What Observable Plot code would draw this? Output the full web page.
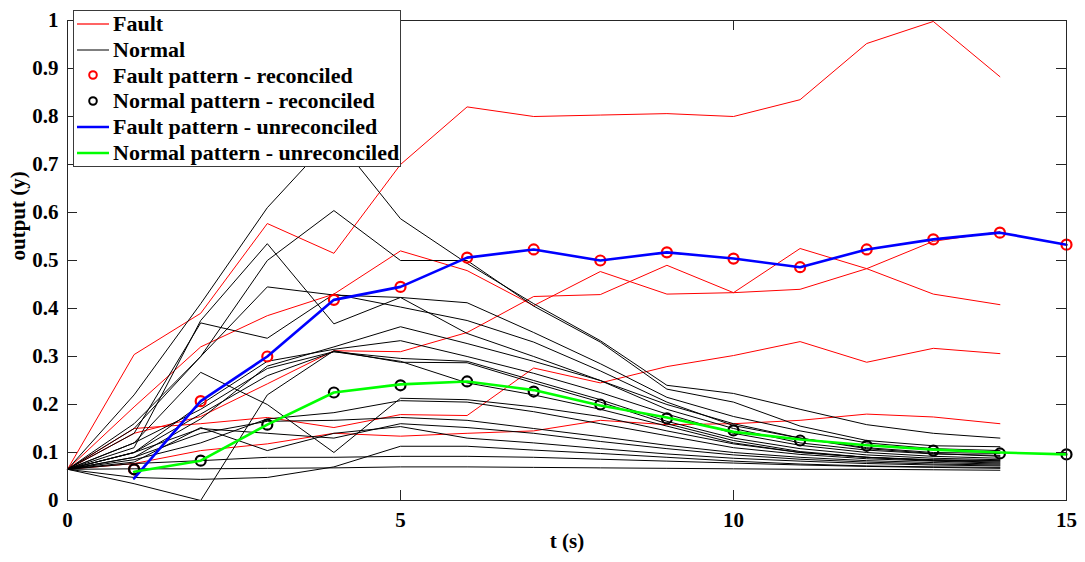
<!DOCTYPE html>
<html>
<head>
<meta charset="utf-8">
<script src="https://cdn.jsdelivr.net/npm/d3@7"></script>
<script src="https://cdn.jsdelivr.net/npm/@observablehq/plot@0.6"></script>
<style>
  html, body { margin: 0; padding: 0; background: #fff; overflow: hidden; }
  #chart { position: relative; width: 1085px; height: 562px; }
  #legend {
    position: absolute; left: 73px; top: 10px; width: 328px; height: 157px;
    border: 1px solid #3a3a3a; background: #fff; padding-top: 0;
    font-family: "Liberation Serif", "Times New Roman", serif; font-weight: bold;
    font-size: 22px; color: #000; box-sizing: border-box;
  }
  #legend .row { display: flex; align-items: center; height: 25.8px; white-space: nowrap; }
  #legend svg { flex: none; margin-right: 3px; }
</style>
</head>
<body>
<div id="chart"></div>
<script>
// Time axis of the simulated runs (s)
const t = [0, 1, 2, 3, 4, 5, 6, 7, 8, 9, 10, 11, 12, 13, 14];
// Time axis of the pattern estimates (s)
const tPattern = [1, 2, 3, 4, 5, 6, 7, 8, 9, 10, 11, 12, 13, 14, 15];

// Output of the faulty runs
const faultRuns = [
  [0.065, 0.304, 0.39, 0.577, 0.515, 0.70, 0.82, 0.80, 0.803, 0.806, 0.80, 0.835, 0.952, 0.998, 0.883],
  [0.065, 0.195, 0.32, 0.385, 0.43, 0.52, 0.479, 0.406, 0.477, 0.43, 0.433, 0.44, 0.483, 0.54, 0.56],
  [0.065, 0.14, 0.175, 0.243, 0.312, 0.31, 0.35, 0.425, 0.429, 0.49, 0.433, 0.525, 0.483, 0.43, 0.408],
  [0.065, 0.15, 0.16, 0.173, 0.152, 0.179, 0.177, 0.276, 0.245, 0.279, 0.302, 0.331, 0.288, 0.317, 0.306],
  [0.065, 0.077, 0.104, 0.118, 0.14, 0.134, 0.14, 0.145, 0.167, 0.158, 0.16, 0.167, 0.18, 0.174, 0.16]
];

// Output of the normal runs
const normalRuns = [
  [0.065, 0.22, 0.41, 0.61, 0.76, 0.587, 0.494, 0.41, 0.333, 0.24, 0.223, 0.19, 0.158, 0.14, 0.13],
  [0.065, 0.16, 0.30, 0.50, 0.604, 0.50, 0.50, 0.405, 0.33, 0.232, 0.205, 0.155, 0.125, 0.114, 0.112],
  [0.065, 0.11, 0.375, 0.535, 0.368, 0.423, 0.412, 0.35, 0.285, 0.215, 0.175, 0.145, 0.12, 0.108, 0.104],
  [0.065, 0.14, 0.37, 0.338, 0.43, 0.403, 0.375, 0.33, 0.27, 0.205, 0.156, 0.13, 0.11, 0.10, 0.098],
  [0.065, 0.15, 0.30, 0.445, 0.428, 0.423, 0.348, 0.30, 0.25, 0.19, 0.15, 0.12, 0.105, 0.097, 0.094],
  [0.065, 0.09, 0.17, 0.28, 0.32, 0.362, 0.327, 0.29, 0.25, 0.20, 0.16, 0.13, 0.108, 0.098, 0.092],
  [0.065, 0.10, 0.20, 0.29, 0.315, 0.333, 0.30, 0.265, 0.225, 0.18, 0.14, 0.115, 0.10, 0.092, 0.088],
  [0.065, 0.12, 0.19, 0.275, 0.31, 0.296, 0.29, 0.25, 0.21, 0.165, 0.13, 0.108, 0.095, 0.088, 0.085],
  [0.065, 0.12, 0.267, 0.20, 0.10, 0.213, 0.21, 0.195, 0.175, 0.145, 0.118, 0.10, 0.09, 0.084, 0.082],
  [0.065, 0.035, 0.0, 0.22, 0.312, 0.288, 0.287, 0.245, 0.205, 0.16, 0.125, 0.102, 0.09, 0.083, 0.08],
  [0.065, 0.085, 0.12, 0.17, 0.183, 0.208, 0.205, 0.185, 0.16, 0.135, 0.11, 0.096, 0.087, 0.082, 0.078],
  [0.065, 0.09, 0.14, 0.165, 0.167, 0.173, 0.167, 0.15, 0.133, 0.115, 0.10, 0.09, 0.083, 0.079, 0.076],
  [0.065, 0.10, 0.15, 0.14, 0.13, 0.16, 0.152, 0.14, 0.123, 0.108, 0.095, 0.086, 0.08, 0.076, 0.074],
  [0.065, 0.08, 0.152, 0.104, 0.14, 0.154, 0.13, 0.12, 0.108, 0.097, 0.088, 0.082, 0.077, 0.074, 0.072],
  [0.065, 0.048, 0.044, 0.048, 0.07, 0.113, 0.113, 0.105, 0.098, 0.09, 0.082, 0.076, 0.072, 0.07, 0.069],
  [0.065, 0.077, 0.083, 0.09, 0.09, 0.092, 0.092, 0.09, 0.086, 0.082, 0.078, 0.074, 0.071, 0.069, 0.067],
  [0.065, 0.066, 0.066, 0.067, 0.068, 0.07, 0.07, 0.069, 0.068, 0.067, 0.066, 0.065, 0.065, 0.064, 0.063],
  [0.065, 0.10, 0.18, 0.26, 0.31, 0.29, 0.245, 0.22, 0.19, 0.155, 0.12, 0.10, 0.09, 0.085, 0.083]
];

// Pattern estimates
const faultReconciled    = [0.065, 0.207, 0.30, 0.418, 0.445, 0.506, 0.523, 0.50, 0.517, 0.504, 0.486, 0.523, 0.544, 0.558, 0.533];
const normalReconciled   = [0.065, 0.083, 0.158, 0.225, 0.24, 0.248, 0.227, 0.20, 0.171, 0.146, 0.125, 0.114, 0.104, 0.098, 0.096];
const faultUnreconciled  = [0.046, 0.207, 0.30, 0.418, 0.445, 0.506, 0.523, 0.50, 0.517, 0.504, 0.486, 0.523, 0.544, 0.558, 0.533];
const normalUnreconciled = [0.06, 0.083, 0.158, 0.225, 0.242, 0.248, 0.23, 0.198, 0.173, 0.143, 0.127, 0.115, 0.106, 0.10, 0.096];

// Axis ticks
const xTicks = [0, 5, 10, 15];
const yTicks = [0, 0.1, 0.2, 0.3, 0.4, 0.5, 0.6, 0.7, 0.8, 0.9, 1];
const yTickLabels = ["0", "0.1", "0.2", "0.3", "0.4", "0.5", "0.6", "0.7", "0.8", "0.9", "1"];
const xTitle = "t (s)";
const yTitle = "output (y)";

// Legend entries
const legendItems = [
  {label: "Fault", kind: "line", color: "#ff3030", width: 1.5},
  {label: "Normal", kind: "line", color: "#555", width: 1.5},
  {label: "Fault pattern - reconciled", kind: "circle", color: "#ff0000"},
  {label: "Normal pattern - reconciled", kind: "circle", color: "#000"},
  {label: "Fault pattern - unreconciled", kind: "line", color: "#0000ff", width: 2.5},
  {label: "Normal pattern - unreconciled", kind: "line", color: "#00ff00", width: 2.5}
];

const tidyRuns = runs => runs.flatMap((run, i) => run.map((v, j) => ({t: t[j], v, run: i})));
const tidyPattern = values => values.map((v, j) => ({t: tPattern[j], v}));

const font = {fontFamily: "'Liberation Serif', 'Times New Roman', serif", fontWeight: "bold", fontSize: 21, fill: "#000"};
const axisColor = "#262626";

const chart = Plot.plot({
  width: 1085,
  height: 562,
  marginLeft: 67,
  marginRight: 19,
  marginTop: 20,
  marginBottom: 62,
  style: {fontFamily: font.fontFamily, fontWeight: "bold", fontSize: "21px", background: "#fff", color: "#000"},
  x: {domain: [0, 15]},
  y: {domain: [0, 1]},
  marks: [
    Plot.line(tidyRuns(faultRuns), {x: "t", y: "v", z: "run", stroke: "#ff0000", strokeWidth: 1, strokeLinejoin: "miter"}),
    Plot.line(tidyRuns(normalRuns), {x: "t", y: "v", z: "run", stroke: "#000", strokeWidth: 1, strokeLinejoin: "miter"}),
    Plot.dot(tidyPattern(faultReconciled), {x: "t", y: "v", r: 5, stroke: "#ff0000", strokeWidth: 2.2, fill: "none"}),
    Plot.dot(tidyPattern(normalReconciled), {x: "t", y: "v", r: 5, stroke: "#000", strokeWidth: 2.2, fill: "none"}),
    Plot.line(tidyPattern(faultUnreconciled), {x: "t", y: "v", stroke: "#0000ff", strokeWidth: 2.6}),
    Plot.line(tidyPattern(normalUnreconciled), {x: "t", y: "v", stroke: "#00ff00", strokeWidth: 2.6}),
    // box and inward ticks on all four sides
    Plot.frame({stroke: axisColor, strokeWidth: 1}),
    Plot.tickX(xTicks, {x: d => d, insetTop: 470, stroke: axisColor}),
    Plot.tickX(xTicks, {x: d => d, insetBottom: 470, stroke: axisColor}),
    Plot.tickY(yTicks, {y: d => d, insetRight: 989, stroke: axisColor}),
    Plot.tickY(yTicks, {y: d => d, insetLeft: 989, stroke: axisColor}),
    Plot.axisX({ticks: xTicks, tickSize: 0, tickPadding: 12, label: null, tickFormat: d => String(d), ...font}),
    Plot.axisY({ticks: yTicks, tickSize: 0, tickPadding: 9, label: null, tickFormat: d => yTickLabels[yTicks.indexOf(d)], ...font}),
    Plot.text([xTitle], {frameAnchor: "bottom", dy: 47, text: d => d, ...font}),
    Plot.text([yTitle], {frameAnchor: "left", dx: -49, rotate: -90, text: d => d, ...font})
  ]
});

const container = document.getElementById("chart");
container.appendChild(chart);

// Legend box drawn over the top-left corner of the plot
const legend = document.createElement("div");
legend.id = "legend";
for (const item of legendItems) {
  const row = document.createElement("div");
  row.className = "row";
  const swatch = item.kind === "line"
    ? `<line x1="3" x2="35" y1="6" y2="6" stroke="${item.color}" stroke-width="${item.width}"/>`
    : `<circle cx="19" cy="6" r="3.8" fill="none" stroke="${item.color}" stroke-width="2"/>`;
  row.innerHTML = `<svg width="36" height="12">${swatch}</svg><span>${item.label}</span>`;
  legend.appendChild(row);
}
container.appendChild(legend);
</script>
</body>
</html>
